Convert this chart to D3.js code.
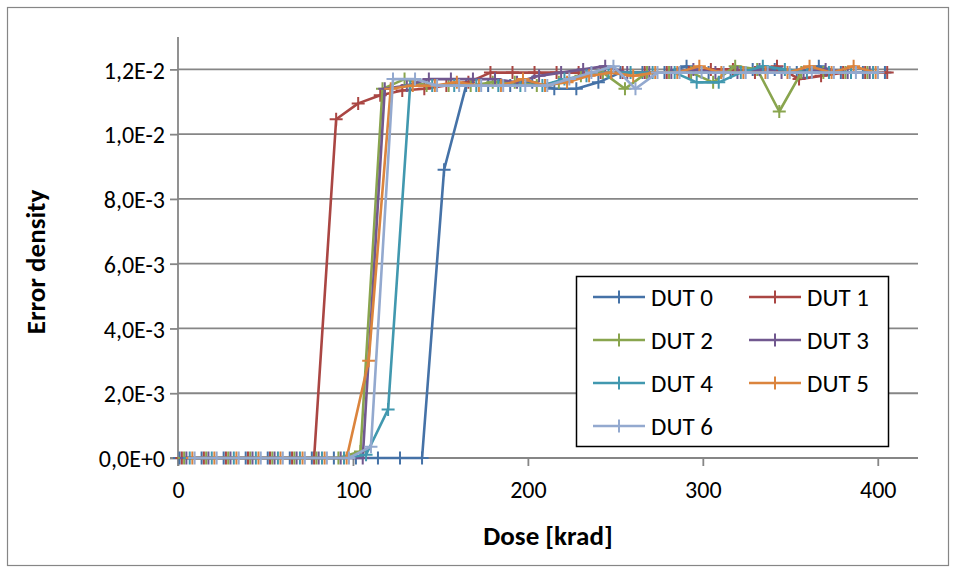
<!DOCTYPE html>
<html><head><meta charset="utf-8">
<script src="https://cdn.jsdelivr.net/npm/d3@7"></script>
<style>
html,body{margin:0;padding:0;background:#fff;}
svg text{font-family:"Carlito","Calibri","Lato","Open Sans",sans-serif;}
</style></head>
<body>
<svg id="chart" width="956" height="573"></svg>
<script>
const seriesNames = ["DUT 0","DUT 1","DUT 2","DUT 3","DUT 4","DUT 5","DUT 6"];
const seriesColors = ["#4572A7","#AA4643","#89A54E","#71588F","#4198AF","#DB843D","#93A9CF"];

const dose0 = [0.9,13.5,26.1,38.7,51.3,63.9,76.5,89.1,101.7,114.3,126.9,139.5,152.1,164.7,177.3,189.9,202.5,215.1,227.7,240.3,252.9,265.5,278.1,290.7,303.3,315.9,328.5,341.1,353.7,366.3,378.9,391.5,404.1];
const err0  = [0,0,0,0,0,0,0,0,0,0,0,0,0.0089,0.0115,0.0115,0.0115,0.0116,0.0114,0.0114,0.0116,0.0119,0.0119,0.0119,0.0121,0.0119,0.0119,0.0120,0.0120,0.0119,0.0121,0.0119,0.0119,0.0119];

const dose1 = [2.2,14.8,27.4,40,52.6,65.2,77.8,90.4,103,115.6,128.2,140.8,153.4,166,178.6,191.2,203.8,216.4,229,241.6,254.2,266.8,279.4,292,304.6,317.2,329.8,342.4,355,367.6,380.2,392.8,405.4];
const err1  = [0,0,0,0,0,0,0,0.01046,0.01095,0.0112,0.01135,0.0114,0.0115,0.0116,0.0119,0.0119,0.0119,0.0119,0.0119,0.0119,0.0119,0.0119,0.0119,0.0119,0.0120,0.0120,0.0119,0.0121,0.0117,0.0118,0.0119,0.0119,0.0119];

const dose2 = [3.5,16.1,28.7,41.3,53.9,66.5,79.1,91.7,104.3,116.9,129.5,142.1,154.7,167.3,179.9,192.5,205.1,217.7,230.3,242.9,255.5,268.1,280.7,293.3,305.9,318.5,331.1,343.7,356.3,368.9,381.5,394.1];
const err2  = [0,0,0,0,0,0,0,0,0.0002,0.0114,0.0117,0.0115,0.0115,0.0115,0.0116,0.0116,0.0115,0.0116,0.0118,0.0119,0.0114,0.0119,0.0119,0.0119,0.0116,0.0121,0.0120,0.0107,0.0119,0.0119,0.0119,0.0119];

const dose3 = [4.8,17.4,30,42.6,55.2,67.8,80.4,93,105.6,118.2,130.8,143.4,156,168.6,181.2,193.8,206.4,219,231.6,244.2,256.8,269.4,282,294.6,307.2,319.8,332.4,345,357.6,370.2,382.8,395.4];
const err3  = [0,0,0,0,0,0,0,0,0,0.0114,0.0115,0.0117,0.0117,0.0117,0.0117,0.0116,0.0118,0.0119,0.0120,0.0121,0.0119,0.0119,0.0119,0.0120,0.0119,0.0119,0.0120,0.0119,0.0119,0.0120,0.0119,0.0119];

const dose4 = [6.7,19.3,31.9,44.5,57.1,69.7,82.3,94.9,107.5,120.1,132.7,145.3,157.9,170.5,183.1,195.7,208.3,220.9,233.5,246.1,258.7,271.3,283.9,296.5,309.1,321.7,334.3,346.9,359.5,372.1,384.7,397.3];
const err4  = [0,0,0,0,0,0,0,0,0.0001,0.0015,0.0115,0.0115,0.0115,0.0115,0.0115,0.0115,0.0115,0.0117,0.0118,0.0119,0.0119,0.0119,0.0119,0.0116,0.0116,0.0119,0.0121,0.0120,0.0119,0.0119,0.0119,0.0119];

const dose5 = [8.2,20.8,33.4,46,58.6,71.2,83.8,96.4,109,121.6,134.2,146.8,159.4,172,184.6,197.2,209.8,222.4,235,247.6,260.2,272.8,285.4,298,310.6,323.2,335.8,348.4,361,373.6,386.2,398.8];
const err5  = [0,0,0,0,0,0,0,0,0.0030,0.0114,0.0115,0.0115,0.0116,0.0115,0.0115,0.0117,0.0115,0.0116,0.0118,0.0119,0.0118,0.0119,0.0119,0.0121,0.0119,0.0119,0.0119,0.0119,0.0121,0.0119,0.0121,0.0119];

const dose6 = [9.5,22.1,34.7,47.3,59.9,72.5,85.1,97.7,110.3,122.9,135.5,148.1,160.7,173.3,185.9,198.5,211.1,223.7,236.3,248.9,261.5,274.1,286.7,299.3,311.9,324.5,337.1,349.7,362.3,374.9,387.5,400.1];
const err6  = [0,0,0,0,0,0,0,0,0.00035,0.0117,0.0117,0.0115,0.0115,0.0115,0.0115,0.0115,0.0115,0.0117,0.0119,0.0121,0.0114,0.0119,0.0119,0.0119,0.0119,0.0119,0.0119,0.0119,0.0119,0.0119,0.0119,0.0119];

const xTicks = [0,100,200,300,400];
const yTicks = [0,0.002,0.004,0.006,0.008,0.010,0.012];
const yTickLabels = ["0,0E+0","2,0E-3","4,0E-3","6,0E-3","8,0E-3","1,0E-2","1,2E-2"];
const xTitle = "Dose [krad]";
const yTitle = "Error density";

const doses = [dose0,dose1,dose2,dose3,dose4,dose5,dose6];
const errs = [err0,err1,err2,err3,err4,err5,err6];
const series = seriesNames.map((n,i)=>({name:n,color:seriesColors[i],pts:doses[i].map((d,j)=>({x:d,y:errs[i][j]}))}));

const svg = d3.select("#chart");
const L=178,R=918,T=37,B=458;
const x = d3.scaleLinear().domain([0,423]).range([L,R]);
const y = d3.scaleLinear().domain([0,0.013]).range([B,T]);
const gridColor="#868686";

// outer frame
svg.append("rect").attr("x",7.5).attr("y",7.5).attr("width",941).attr("height",558)
  .attr("fill","#fff").attr("stroke","#868686").attr("stroke-width",1.2);

// gridlines
svg.append("g").selectAll("line").data(yTicks.slice(1)).join("line")
  .attr("x1",L).attr("x2",R).attr("y1",d=>y(d)).attr("y2",d=>y(d))
  .attr("stroke",gridColor).attr("stroke-width",1.8);

// axes
const yAxis = d3.axisLeft(y).tickValues(yTicks).tickSize(8).tickPadding(5).tickFormat((d,i)=>yTickLabels[i]);
const gy = svg.append("g").attr("transform",`translate(${L},0)`).call(yAxis);
const xAxis = d3.axisBottom(x).tickValues(xTicks).tickSize(8).tickPadding(15).tickFormat(d3.format("d"));
const gx = svg.append("g").attr("transform",`translate(0,${B})`).call(xAxis);
[gx,gy].forEach(g=>{
  g.select(".domain").attr("stroke",gridColor).attr("stroke-width",1.8);
  g.selectAll(".tick line").attr("stroke",gridColor).attr("stroke-width",1.8);
  g.selectAll(".tick text").attr("fill","#000").style("font-size","24px");
});
gy.selectAll(".tick text").attr("dy","0.36em");
gy.select(".domain").attr("d",`M0,${T}V${B+8}`);
gx.select(".domain").attr("d",`M${L-8},0H${R}`);

// axis titles
svg.append("text").attr("x",548).attr("y",545).attr("text-anchor","middle")
  .style("font-size","27px").style("font-weight","bold").text(xTitle);
svg.append("text").attr("transform",`translate(45,262) rotate(-90)`).attr("text-anchor","middle")
  .style("font-size","27px").style("font-weight","bold").text(yTitle);

// series
const line = d3.line().x(d=>x(d.x)).y(d=>y(d.y));
const plus = 6.5;
series.forEach(s=>{
  const g = svg.append("g");
  g.append("path").attr("d",line(s.pts)).attr("fill","none").attr("stroke",s.color)
    .attr("stroke-width",2.6).attr("stroke-linejoin","round");
  g.selectAll("path.m").data(s.pts).join("path").attr("class","m")
    .attr("d",d=>`M${x(d.x)-plus},${y(d.y)}H${x(d.x)+plus}M${x(d.x)},${y(d.y)-plus}V${y(d.y)+plus}`)
    .attr("stroke",s.color).attr("stroke-width",2);
});

// legend
const lg = svg.append("g");
lg.append("rect").attr("x",576.5).attr("y",276.5).attr("width",312).attr("height",170)
  .attr("fill","#fff").attr("stroke","#000").attr("stroke-width",1.5);
series.forEach((s,i)=>{
  const col=i%2, row=Math.floor(i/2);
  const lx = 593 + col*156, ly = 297 + row*43;
  lg.append("line").attr("x1",lx).attr("x2",lx+52).attr("y1",ly).attr("y2",ly)
    .attr("stroke",s.color).attr("stroke-width",2.6);
  lg.append("path").attr("d",`M${lx+26-6},${ly}H${lx+26+6}M${lx+26},${ly-6.5}V${ly+6.5}`)
    .attr("stroke",s.color).attr("stroke-width",2);
  lg.append("text").attr("x",lx+58).attr("y",ly+9).style("font-size","25px").attr("fill","#000").text(s.name);
});
</script>
</body></html>
